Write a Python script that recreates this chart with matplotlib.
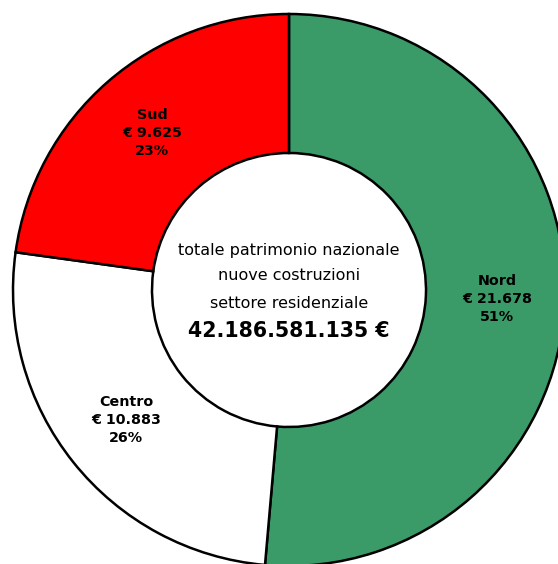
import numpy as np
import matplotlib
matplotlib.use("Agg")
import matplotlib.pyplot as plt

# data (million euro)
regions = ["Nord", "Centro", "Sud"]
values = [21.678, 10.883, 9.625]
value_labels = ["21.678", "10.883", "9.625"]
colors = ["#3A9B69", "#FFFFFF", "#FF0000"]
total_label = "42.186.581.135 €"
center_lines = ["totale patrimonio nazionale", "nuove costruzioni", "settore residenziale"]

W, H = 558, 564
fig = plt.figure(figsize=(W / 100, H / 100), dpi=100)
ax = fig.add_axes([0, 0, 1, 1])

cx, cy = 289, H - 290
R = 276
hole = 137

wedges, _ = ax.pie(values, colors=colors, startangle=90, counterclock=False,
                   center=(cx, cy), radius=R, frame=True,
                   wedgeprops=dict(width=R - hole, edgecolor="black", linewidth=1.8))
ax.set_xlim(0, W)
ax.set_ylim(0, H)
ax.set_aspect("equal")
ax.axis("off")

total = sum(values)
for w, name, v, lab in zip(wedges, regions, values, value_labels):
    mid = np.deg2rad((w.theta1 + w.theta2) / 2)
    r = 0.755 * R
    pct = round(v / total * 100)
    ax.text(cx + r * np.cos(mid), cy + r * np.sin(mid),
            f"{name}\n€ {lab}\n{pct}%", ha="center", va="center",
            fontsize=10.3, fontweight="bold", linespacing=1.35)

# center text
ys = [251, 275, 303]
for line, py in zip(center_lines, ys):
    ax.text(cx, H - py, line, ha="center", va="center", fontsize=11.5)
ax.text(cx, H - 331, total_label, ha="center", va="center",
        fontsize=14.8, fontweight="bold")

fig.savefig("out.png", dpi=100)
